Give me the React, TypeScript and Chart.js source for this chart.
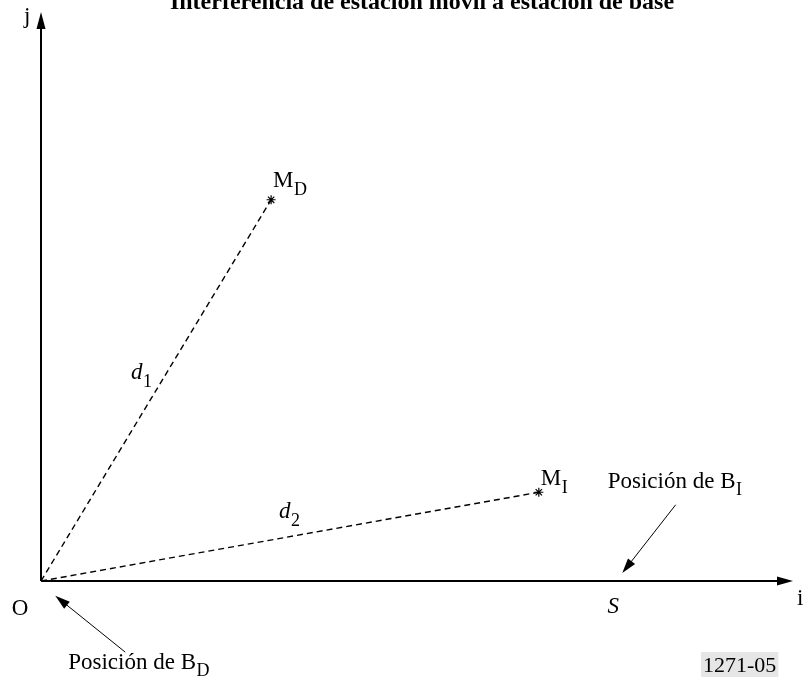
import { useEffect, useRef } from 'react';
import { Chart, registerables } from 'chart.js';

Chart.register(...registerables);

const TITLE = 'Interferencia de estación móvil a estación de base';
const FIG_ID = '1271-05';
const AXIS_X_LABEL = 'i';
const AXIS_Y_LABEL = 'j';
const ORIGIN_LABEL = 'O';
const AXIS_MAX_X = 100;
const AXIS_MAX_Y = 100;

const MOBILE_NAMES = ['M', 'M'];
const MOBILE_SUBS = ['D', 'I'];
const MOBILE_X = [30.6, 66.2];
const MOBILE_Y = [67.0, 15.6];

const DIST_NAMES = ['d', 'd'];
const DIST_SUBS = ['1', '2'];
const DIST_T = [0.53, 0.49];

const S_LABEL = 'S';
const S_X = 76.1;

const BASE_LABEL = 'Posición de B';
const BASE_SUBS = ['D', 'I'];
const BASE_TIP_X = [1.9, 77.3];
const BASE_TIP_Y = [-2.6, 1.4];
const BASE_TAIL_X = [11.2, 84.4];
const BASE_TAIL_Y = [-12.5, 13.4];

const SERIF = "'Liberation Serif', 'Times New Roman', serif";
const MAIN = `23px ${SERIF}`;
const SUB = `18px ${SERIF}`;

function arrowHead(ctx: CanvasRenderingContext2D, x0: number, y0: number, x1: number, y1: number, len: number, half: number) {
  const a = Math.atan2(y1 - y0, x1 - x0);
  const bx = x1 - len * Math.cos(a);
  const by = y1 - len * Math.sin(a);
  const nx = -Math.sin(a) * half;
  const ny = Math.cos(a) * half;
  ctx.beginPath();
  ctx.moveTo(x1, y1);
  ctx.lineTo(bx + nx, by + ny);
  ctx.lineTo(bx - nx, by - ny);
  ctx.closePath();
  ctx.fill();
}

function subText(ctx: CanvasRenderingContext2D, main: string, sub: string, x: number, y: number, mainFont: string, subDy: number) {
  ctx.font = mainFont;
  ctx.textAlign = 'left';
  ctx.textBaseline = 'alphabetic';
  ctx.fillText(main, x, y);
  const w = ctx.measureText(main).width;
  ctx.font = SUB;
  ctx.fillText(sub, x + w + 0.5, y + subDy);
}

const figurePlugin = {
  id: 'figure',
  beforeDatasetsDraw(chart: any) {
    const { ctx, scales } = chart;
    const px = (v: number) => scales.x.getPixelForValue(v);
    const py = (v: number) => scales.y.getPixelForValue(v);
    const ox = px(0), oy = py(0);
    const ex = px(AXIS_MAX_X), ey = py(AXIS_MAX_Y);
    ctx.save();
    ctx.strokeStyle = '#000';
    ctx.fillStyle = '#000';
    ctx.lineWidth = 2;
    ctx.beginPath();
    ctx.moveTo(ox, oy);
    ctx.lineTo(ex - 10, oy);
    ctx.moveTo(ox, oy);
    ctx.lineTo(ox, ey + 10);
    ctx.stroke();
    arrowHead(ctx, ox, oy, ex, oy, 16, 4.5);
    arrowHead(ctx, ox, oy, ox, ey, 17, 4.5);
    ctx.restore();
  },
  afterDatasetsDraw(chart: any) {
    const { ctx, scales } = chart;
    const px = (v: number) => scales.x.getPixelForValue(v);
    const py = (v: number) => scales.y.getPixelForValue(v);
    const ox = px(0), oy = py(0);
    ctx.save();
    ctx.fillStyle = '#000';
    ctx.strokeStyle = '#000';

    // title
    ctx.font = `bold 24px ${SERIF}`;
    ctx.textAlign = 'center';
    ctx.textBaseline = 'alphabetic';
    ctx.fillText(TITLE, 422, 9);

    // axis labels
    ctx.font = MAIN;
    ctx.textAlign = 'left';
    ctx.fillText(AXIS_Y_LABEL, ox - 17, py(AXIS_MAX_Y) + 11);
    ctx.fillText(AXIS_X_LABEL, px(AXIS_MAX_X) + 4, oy + 24);
    ctx.textAlign = 'center';
    ctx.fillText(ORIGIN_LABEL, ox - 21, oy + 34);

    // S
    ctx.font = `italic 23px ${SERIF}`;
    ctx.fillText(S_LABEL, px(S_X), oy + 32);

    // mobile labels
    const mOff = [[2, -13], [2, -7]];
    MOBILE_NAMES.forEach((n, i) => {
      subText(ctx, n, MOBILE_SUBS[i], px(MOBILE_X[i]) + mOff[i][0], py(MOBILE_Y[i]) + mOff[i][1], MAIN, 8);
    });

    // distance labels
    const dOff = [[-32, 0], [-6, -20]];
    DIST_NAMES.forEach((n, i) => {
      const lx = px(MOBILE_X[i] * DIST_T[i]);
      const ly = py(MOBILE_Y[i] * DIST_T[i]);
      subText(ctx, n, DIST_SUBS[i], lx + dOff[i][0], ly + dOff[i][1], `italic 23px ${SERIF}`, 8);
    });

    // base position arrows
    ctx.lineWidth = 1;
    const bOff = [[-57, 17], [-68, -17]];
    BASE_SUBS.forEach((s, i) => {
      const tx = px(BASE_TAIL_X[i]), ty = py(BASE_TAIL_Y[i]);
      const hx = px(BASE_TIP_X[i]), hy = py(BASE_TIP_Y[i]);
      const a = Math.atan2(hy - ty, hx - tx);
      ctx.beginPath();
      ctx.moveTo(tx, ty);
      ctx.lineTo(hx - 8 * Math.cos(a), hy - 8 * Math.sin(a));
      ctx.stroke();
      arrowHead(ctx, tx, ty, hx, hy, 15, 4.5);
      subText(ctx, BASE_LABEL, s, tx + bOff[i][0], ty + bOff[i][1], MAIN, 7);
    });

    // figure id
    ctx.font = `22px ${SERIF}`;
    const w = ctx.measureText(FIG_ID).width;
    ctx.fillStyle = '#e6e6e6';
    ctx.fillRect(701, 652, w + 4, 25);
    ctx.fillStyle = '#000';
    ctx.textAlign = 'left';
    ctx.fillText(FIG_ID, 703, 672);
    ctx.restore();
  },
};

export default function App() {
  const ref = useRef<HTMLCanvasElement>(null);
  useEffect(() => {
    if (!ref.current) return;
    const datasets = MOBILE_X.map((mx, i) => ({
      label: MOBILE_NAMES[i] + MOBILE_SUBS[i],
      data: [{ x: 0, y: 0 }, { x: mx, y: MOBILE_Y[i] }],
      showLine: true,
      borderColor: '#000',
      borderWidth: 1.4,
      borderDash: [6, 4],
      pointRadius: [0, 4.5],
      pointStyle: 'star',
      pointBorderColor: '#000',
      pointBorderWidth: 1.2,
      pointBackgroundColor: '#000',
    }));
    const chart = new Chart(ref.current, {
      type: 'scatter',
      data: { datasets },
      options: {
        animation: false,
        responsive: false,
        devicePixelRatio: 1,
        layout: { padding: { left: 41, right: 11, top: 12, bottom: 105 } },
        scales: {
          x: { type: 'linear', min: 0, max: AXIS_MAX_X, display: false },
          y: { type: 'linear', min: 0, max: AXIS_MAX_Y, display: false },
        },
        plugins: { legend: { display: false }, tooltip: { enabled: false }, title: { display: false } },
      },
      plugins: [figurePlugin],
    } as any);
    return () => chart.destroy();
  }, []);
  return (
    <div style={{ position: 'absolute', left: 0, top: 0, width: 804, height: 686, background: '#fff' }}>
      <canvas ref={ref} width={804} height={686} style={{ display: 'block' }} />
    </div>
  );
}
